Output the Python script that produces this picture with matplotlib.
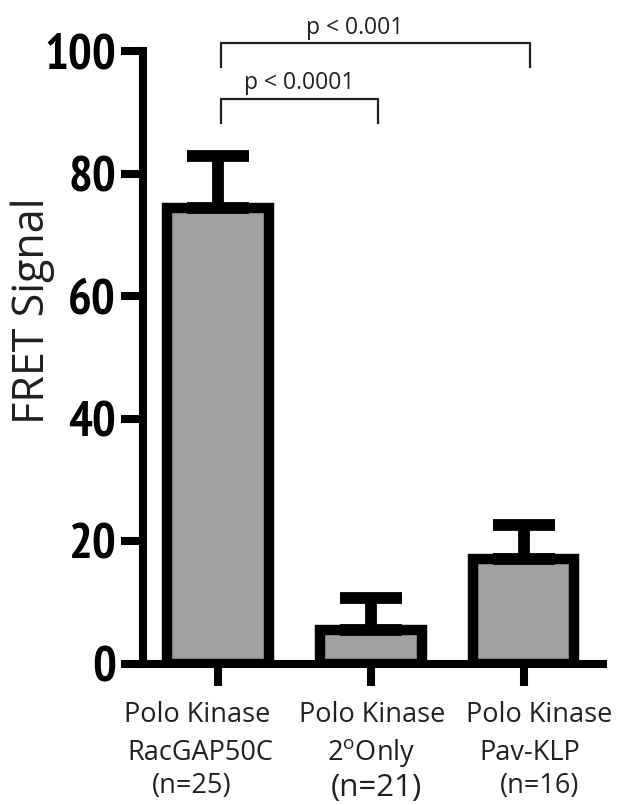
import matplotlib
matplotlib.use("Agg")
import matplotlib.pyplot as plt
import matplotlib.transforms as mtransforms

# data
groups = ["RacGAP50C", "2$^{\\mathregular{o}}$Only", "Pav-KLP"]
counts = ["(n=25)", "(n=21)", "(n=16)"]
means = [74.4, 5.5, 17.2]
errors = [8.5, 5.2, 5.5]
yticks = [0, 20, 40, 60, 80, 100]
pvals = ["p < 0.0001", "p < 0.001"]

INK = "#231f20"
BAR = "#a0a0a0"
TXT = ["Open Sans", "DejaVu Sans"]
NUM = ["PT Sans Narrow", "DejaVu Sans"]

fig = plt.figure(figsize=(6.35, 8.05), dpi=100, facecolor="white")
ax = fig.add_axes([0.2252, 0.1752, 0.7244, 0.7614])

x = list(range(len(means)))
ax.bar(x, means, width=0.667, color=BAR, edgecolor="black", linewidth=7.5, zorder=2)
ax.errorbar(x, means, yerr=[[0] * len(errors), errors], fmt="none", ecolor="black",
            elinewidth=8.5, capsize=22, capthick=8.5, zorder=3)

ax.set_xlim(-0.49, 2.52)
ax.set_ylim(0, 100)
for side in ("top", "right"):
    ax.spines[side].set_visible(False)
for side in ("left", "bottom"):
    ax.spines[side].set_linewidth(5.8)
    ax.spines[side].set_capstyle("projecting")

ax.set_yticks(yticks)
ax.set_yticklabels([str(v) for v in yticks], family=NUM, fontweight="bold", fontsize=36)
ax.tick_params(axis="y", length=16, width=5.8, pad=3.5, colors="black")
ax.set_xticks(x)
ax.set_xticklabels([])
ax.tick_params(axis="x", length=16, width=5.8, colors="black")

fig.text(33 / 635, 1 - 311 / 805, "FRET Signal", rotation=90, ha="center", va="center",
         family=TXT, fontsize=31, color=INK)

# category labels, three lines each
trans = mtransforms.blended_transform_factory(ax.transData, fig.transFigure)
line_off = [[-0.137, -0.118, -0.17], [0.007, 0.0, 0.04], [0.105, 0.04, 0.105]]
for i in x:
    lines = ["Polo Kinase", groups[i], counts[i]]
    base = [722, 760, 793 if i != 1 else 796]
    sizes = [19.5, 19.5, 19.5 if i != 1 else 22.5]
    for j, s in enumerate(lines):
        ax.text(i + line_off[i][j], 1 - base[j] / 805, s, transform=trans, ha="center",
                va="baseline", family=TXT, fontsize=sizes[j], color=INK)

# significance brackets
brackets = [(0.02, 1.05, 92.2, 88.3, 0.53, 93.8), (0.02, 2.04, 101.3, 97.4, 0.895, 102.8)]
for (x0, x1, top, low, tx, ty), p in zip(brackets, pvals):
    ax.plot([x0, x0, x1, x1], [low, top, top, low], color=INK, linewidth=1.6,
            clip_on=False, solid_joinstyle="miter")
    ax.text(tx, ty, p, ha="center", va="baseline", family=TXT, fontsize=16.5, color=INK)

fig.savefig("out.png", dpi=100, facecolor="white")
